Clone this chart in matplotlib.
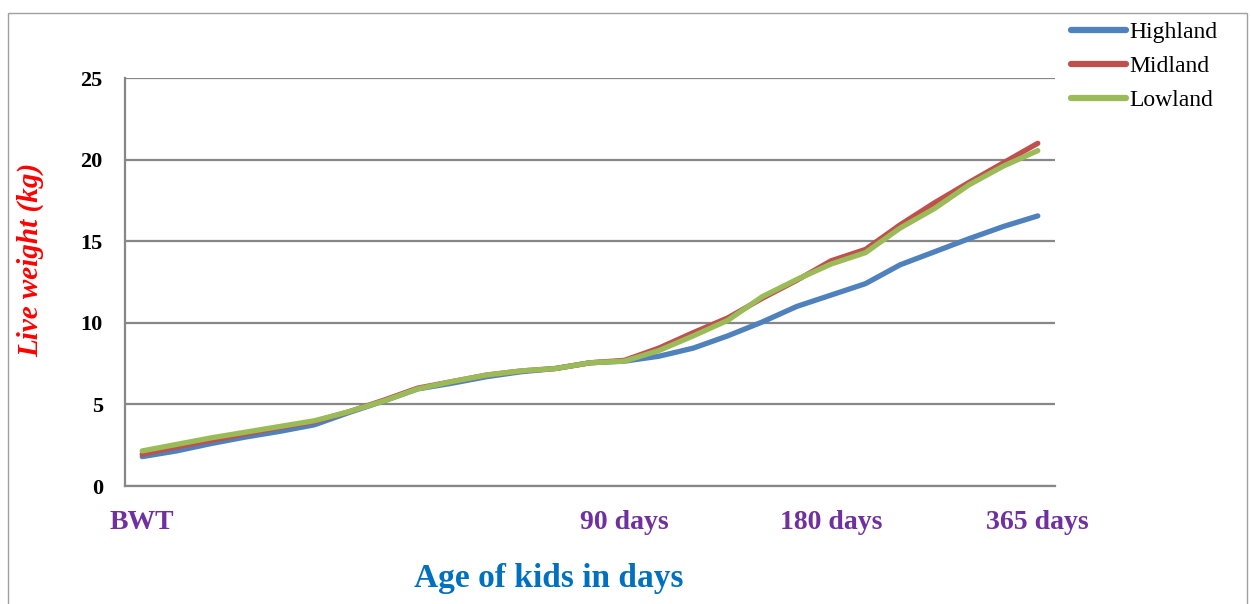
import matplotlib
matplotlib.use("Agg")
import matplotlib.pyplot as plt
from matplotlib.patches import Rectangle

# ---- data ----
series_names = ["Highland", "Midland", "Lowland"]
highland = [1.8, 2.15, 2.6, 3.0, 3.35, 3.75, 4.5, 5.2, 5.95, 6.3, 6.7, 7.0, 7.2, 7.55, 7.65,
            7.95, 8.45, 9.2, 10.05, 11.0, 11.7, 12.4, 13.55, 14.35, 15.15, 15.9, 16.55]
midland = [1.95, 2.4, 2.8, 3.2, 3.6, 3.95, 4.55, 5.25, 6.0, 6.4, 6.8, 7.05, 7.2, 7.55, 7.7,
           8.45, 9.4, 10.3, 11.5, 12.6, 13.8, 14.5, 16.0, 17.35, 18.6, 19.8, 21.0]
lowland = [2.15, 2.55, 2.95, 3.3, 3.65, 4.0, 4.55, 5.2, 5.95, 6.4, 6.8, 7.05, 7.2, 7.55, 7.65,
           8.3, 9.2, 10.15, 11.6, 12.65, 13.6, 14.3, 15.8, 17.0, 18.45, 19.6, 20.55]
tick_positions = [0, 14, 20, 26]
tick_labels = ["BWT", "90 days", "180 days", "365 days"]
y_ticks = [0, 5, 10, 15, 20, 25]

colors = ["#4F81BD", "#C0504D", "#9BBB59"]

W, H = 1251, 604
fig = plt.figure(figsize=(W / 100, H / 100), dpi=100)
fig.patches.append(Rectangle((8 / W, -0.05), (1247 - 8) / W, 1.05 - 13 / H,
                             transform=fig.transFigure, fill=False,
                             edgecolor="#A0A0A0", lw=1.0))

ax = fig.add_axes([125 / W, 1 - 486 / H, (1055 - 125) / W, (486 - 78) / H])

x = list(range(len(highland)))
for vals, name, c in zip([highland, midland, lowland], series_names, colors):
    ax.plot(x, vals, color=c, lw=3.8, label=name, solid_capstyle="round",
            solid_joinstyle="round", zorder=3)

ax.set_xlim(-0.5, len(highland) - 0.5)
ax.set_ylim(0, 25)
ax.set_yticks(y_ticks)
ax.set_yticklabels([str(v) for v in y_ticks], fontfamily="Liberation Serif",
                   fontweight="bold", fontsize=16)
ax.yaxis.grid(True, color="#878787", lw=1.6)
ax.set_axisbelow(True)
ax.tick_params(axis="y", length=0, pad=16)
ax.set_xticks(tick_positions)
ax.set_xticklabels(tick_labels, fontfamily="Liberation Serif", fontweight="bold",
                   fontsize=20, color="#7030A0")
ax.tick_params(axis="x", length=0, pad=17)
for s in ["top", "right"]:
    ax.spines[s].set_visible(False)
for s in ["left", "bottom"]:
    ax.spines[s].set_color("#878787")
    ax.spines[s].set_linewidth(1.6)

fig.text(549 / W, 1 - 579 / H, "Age of kids in days", ha="center", va="center",
         fontfamily="Liberation Serif", fontweight="bold", fontsize=24, color="#0070C0")
fig.text(31 / W, 1 - 260 / H, "Live weight (kg)", ha="center", va="center", rotation=90,
         fontfamily="Liberation Serif", fontweight="bold", fontstyle="italic",
         fontsize=21, color="#FF0000")

leg = fig.legend(loc="upper left", bbox_to_anchor=(1066 / W, 1 - 17 / H), frameon=False,
                 prop={"family": "Liberation Serif", "size": 17},
                 handlelength=2.35, handletextpad=0.12, labelspacing=0.52,
                 borderaxespad=0, borderpad=0.2)
for line in leg.get_lines():
    line.set_linewidth(4.5)

fig.savefig("out.png", dpi=100)
